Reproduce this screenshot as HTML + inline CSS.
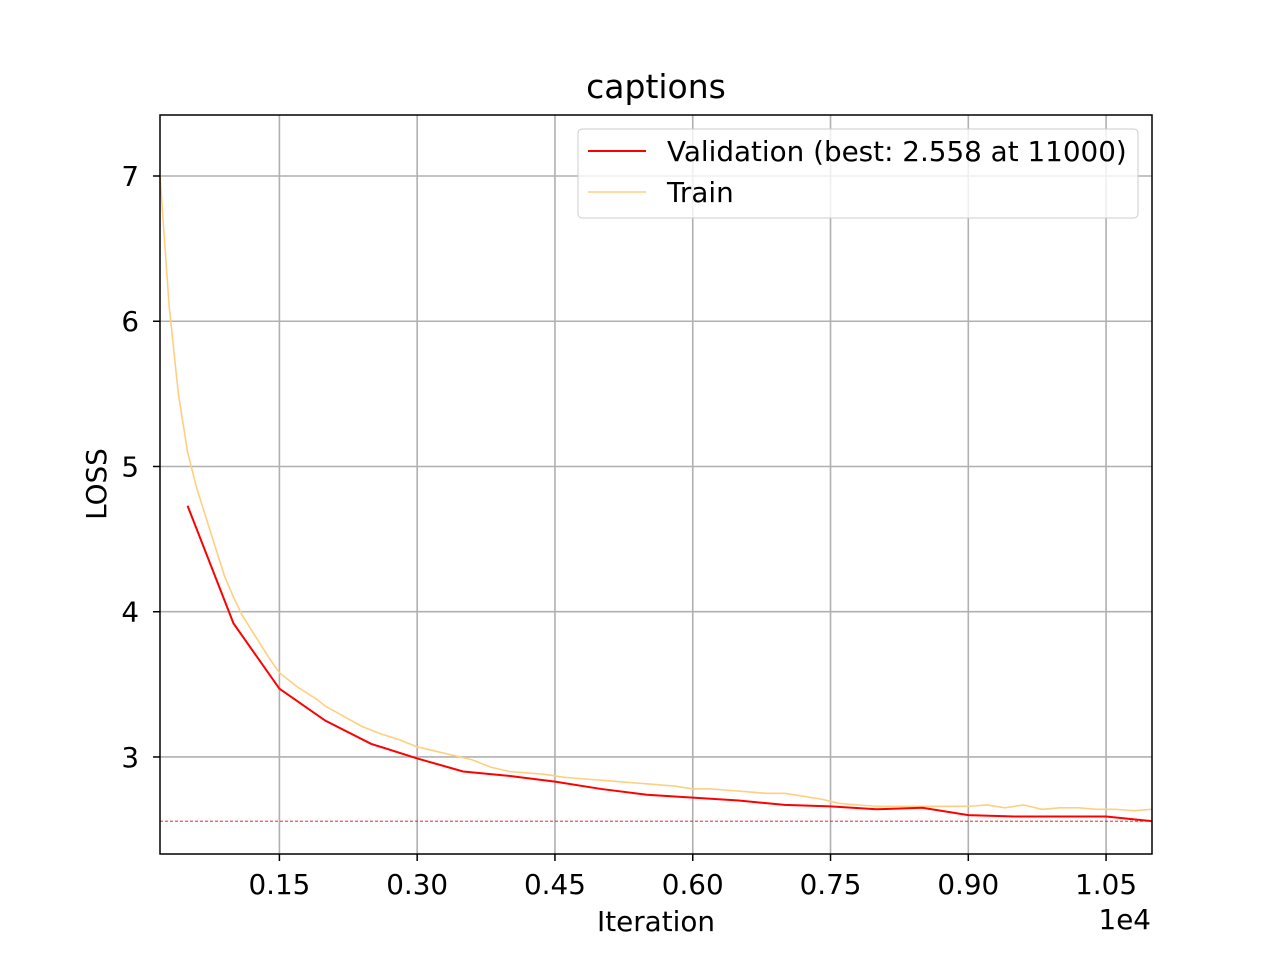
<!DOCTYPE html>
<html><head><meta charset="utf-8"><style>
body{margin:0;background:#fff;}
svg text{font-family:"DejaVu Sans","Liberation Sans",sans-serif;fill:#000;}
</style></head><body>
<svg id="chart" width="1280" height="960">
<rect width="1280" height="960" fill="#fff"/>
<g id="grid"></g>
<g id="series"></g>
<rect x="160" y="115" width="992" height="739" fill="none" stroke="#000" stroke-width="1.5"/>
<g id="axes"></g>
<text x="656" y="98" font-size="33" text-anchor="middle">captions</text>
<text x="656" y="931" font-size="27.8" text-anchor="middle">Iteration</text>
<text x="106" y="484" font-size="27.8" text-anchor="middle" transform="rotate(-90 106 484)">LOSS</text>
<text x="1151" y="929" font-size="27.8" text-anchor="end">1e4</text>
<g>
<rect x="578" y="129" width="560" height="89" rx="4" fill="#fff" fill-opacity="0.8" stroke="#ccc"/>
<line x1="588" y1="151" x2="646" y2="151" stroke="#f00" stroke-width="2"/>
<text x="667" y="161" font-size="27.8">Validation (best: 2.558 at 11000)</text>
<line x1="588" y1="192" x2="646" y2="192" stroke="#ffcf80" stroke-width="1.5"/>
<text x="667" y="202" font-size="27.8">Train</text>
</g>
</svg>
<script>
const xTicks=[1500,3000,4500,6000,7500,9000,10500];
const xTickLabels=["0.15","0.30","0.45","0.60","0.75","0.90","1.05"];
const yTicks=[3,4,5,6,7];
const yTickLabels=["3","4","5","6","7"];
const valX=[500,1000,1500,2000,2500,3000,3500,4000,4500,5000,5500,6000,6500,7000,7500,8000,8500,9000,9500,10000,10500,11000];
const valY=[4.73,3.92,3.47,3.25,3.09,2.99,2.90,2.87,2.83,2.78,2.74,2.72,2.70,2.67,2.66,2.64,2.65,2.60,2.59,2.59,2.59,2.558];
const trainX=[200,300,400,500,600,700,800,900,1000,1100,1200,1300,1400,1500,1600,1700,1800,1900,2000,2200,2400,2600,2800,3000,3200,3400,3600,3800,4000,4200,4400,4600,4800,5000,5200,5400,5600,5800,6000,6200,6400,6600,6800,7000,7200,7400,7600,7800,8000,8200,8400,8600,8800,9000,9200,9400,9600,9800,10000,10200,10400,10600,10800,11000];
const trainY=[7.0,6.1,5.5,5.1,4.85,4.65,4.45,4.25,4.1,3.97,3.87,3.77,3.67,3.58,3.53,3.48,3.44,3.40,3.35,3.28,3.21,3.16,3.12,3.07,3.04,3.01,2.98,2.93,2.90,2.89,2.88,2.86,2.85,2.84,2.83,2.82,2.81,2.80,2.78,2.78,2.77,2.76,2.75,2.75,2.73,2.71,2.68,2.67,2.66,2.66,2.66,2.66,2.66,2.66,2.67,2.65,2.67,2.64,2.65,2.65,2.64,2.64,2.63,2.64];
const bestVal=2.558;
const X0=200,X1=11000,Y0=2.332,Y1=7.42;
const L=160,R=1152,T=115,B=854;
const sx=v=>L+(v-X0)/(X1-X0)*(R-L);
const sy=v=>B-(v-Y0)/(Y1-Y0)*(B-T);
const NS="http://www.w3.org/2000/svg";
function mk(tag,parent,attrs){const e=document.createElementNS(NS,tag);for(const k in attrs)e.setAttribute(k,attrs[k]);parent.appendChild(e);return e;}
const grid=document.getElementById('grid'),axes=document.getElementById('axes'),series=document.getElementById('series');
xTicks.forEach((t,i)=>{const x=sx(t);
 let g=mk('line',grid,{x1:x,x2:x,y1:T,y2:B,stroke:'#b0b0b0','stroke-width':1.6});
 
 let k=mk('line',axes,{x1:x,x2:x,y1:B,y2:B+7,stroke:'#000','stroke-width':1.5});
 
 let tx=mk('text',axes,{x:x,y:B+40,'font-size':27.8,'text-anchor':'middle'});tx.textContent=xTickLabels[i];
 });
yTicks.forEach((t,i)=>{const y=sy(t);
 let g=mk('line',grid,{x1:L,x2:R,y1:y,y2:y,stroke:'#b0b0b0','stroke-width':1.6});
 
 let k=mk('line',axes,{x1:L-7,x2:L,y1:y,y2:y,stroke:'#000','stroke-width':1.5});
 
 let tx=mk('text',axes,{x:L-21,y:y+10,'font-size':27.8,'text-anchor':'end'});tx.textContent=yTickLabels[i];
 });
let bl=mk('line',series,{x1:L,x2:R,y1:sy(bestVal),y2:sy(bestVal),stroke:'#f00','stroke-width':0.8,'stroke-dasharray':'3,2'});

let tp=mk('polyline',series,{points:trainX.map((x,i)=>sx(x)+','+sy(trainY[i])).join(' '),fill:'none',stroke:'#ffcf80','stroke-width':1.6});

let vp=mk('polyline',series,{points:valX.map((x,i)=>sx(x)+','+sy(valY[i])).join(' '),fill:'none',stroke:'#f00','stroke-width':2});

</script>
</body></html>
